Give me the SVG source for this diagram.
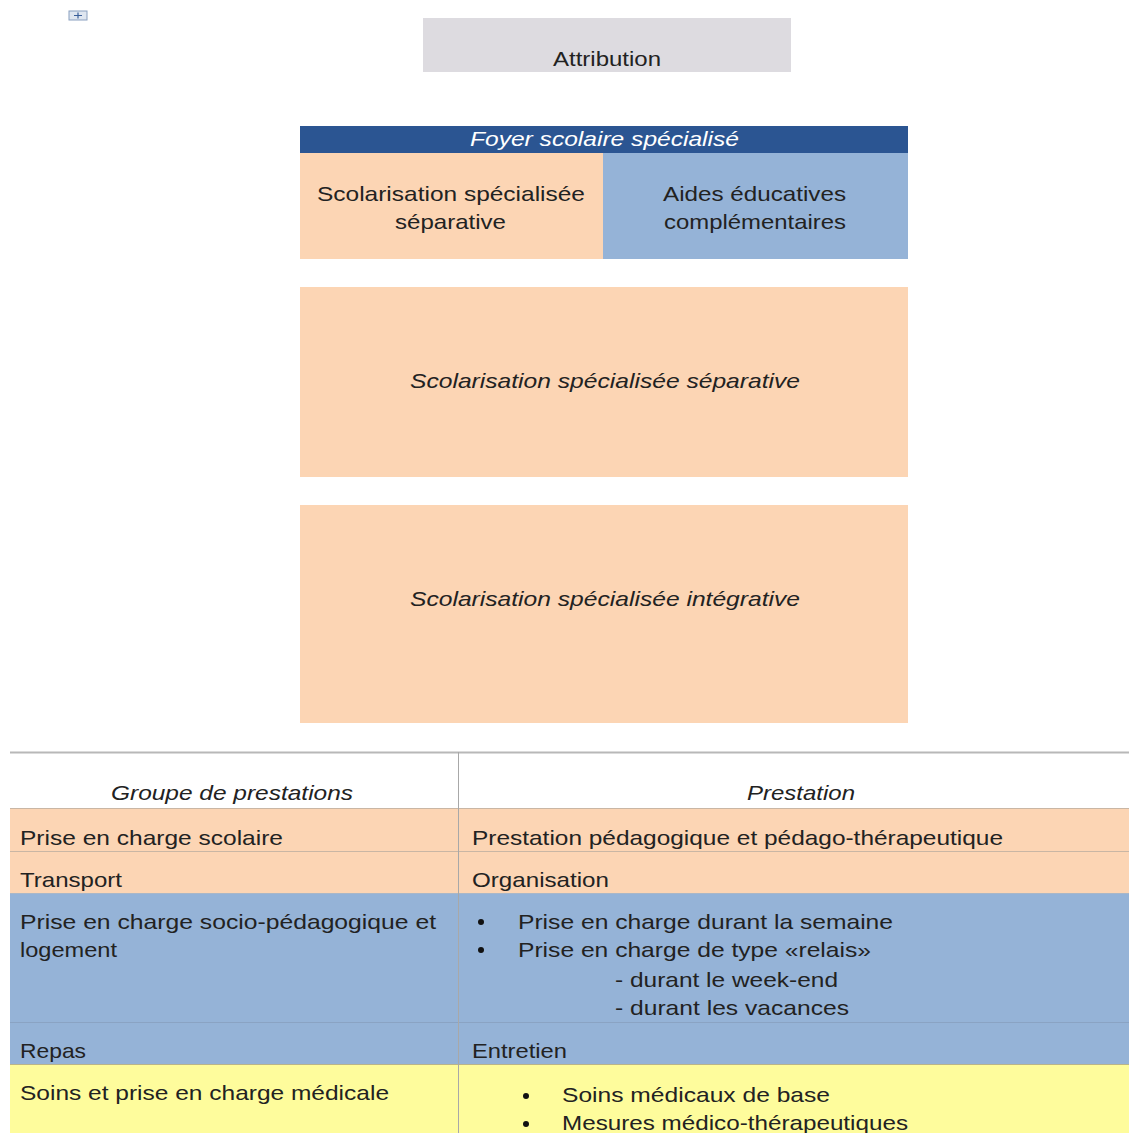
<svg xmlns="http://www.w3.org/2000/svg" width="1129" height="1133" viewBox="0 0 1129 1133">
<style>
text{font-family:"Liberation Sans",Arial,sans-serif;font-size:21px;fill:#222;}
.it{font-style:italic;}
.c{text-anchor:middle;}
.w{fill:#fff;}
.peach{fill:#fcd5b4;}
.blue{fill:#95b3d7;}
.yel{fill:#fefc9c;}
.sep{stroke:#c9b6a4;stroke-width:1;}
</style>
<rect width="1129" height="1133" fill="#fff"/>
<g id="icon">
<rect x="69" y="11" width="18" height="9" fill="#dfe6f0" stroke="#8aa0c0" stroke-width="1"/>
<path d="M74 15.5h8M78 12.5v6" stroke="#3a5f9a" stroke-width="1.2"/>
</g>
<g id="attribution">
<rect x="423" y="18" width="368" height="54" fill="#dddbe0"/>
<text x="553" y="66" textLength="108" lengthAdjust="spacingAndGlyphs">Attribution</text>
</g>
<g id="foyer">
<rect x="300" y="126" width="608" height="27" fill="#2b5592"/>
<text class="it w" x="470" y="146" textLength="269" lengthAdjust="spacingAndGlyphs">Foyer scolaire spécialisé</text>
</g>
<g id="scol-sep-cell">
<rect class="peach" x="300" y="153" width="303" height="106"/>
<text x="317" y="201" textLength="268" lengthAdjust="spacingAndGlyphs">Scolarisation spécialisée</text>
<text x="395" y="229" textLength="111" lengthAdjust="spacingAndGlyphs">séparative</text>
</g>
<g id="aides-cell">
<rect class="blue" x="603" y="153" width="305" height="106"/>
<text x="663" y="201" textLength="183" lengthAdjust="spacingAndGlyphs">Aides éducatives</text>
<text x="664" y="229" textLength="182" lengthAdjust="spacingAndGlyphs">complémentaires</text>
</g>
<g id="scol-separative">
<rect class="peach" x="300" y="287" width="608" height="190"/>
<text class="it" x="410" y="388" textLength="390" lengthAdjust="spacingAndGlyphs">Scolarisation spécialisée séparative</text>
</g>
<g id="scol-integrative">
<rect class="peach" x="300" y="505" width="608" height="218"/>
<text class="it" x="410" y="606" textLength="390" lengthAdjust="spacingAndGlyphs">Scolarisation spécialisée intégrative</text>
</g>
<g id="table">
<rect class="peach" x="10" y="808" width="1119" height="85"/>
<rect class="blue" x="10" y="893" width="1119" height="171"/>
<rect class="yel" x="10" y="1064" width="1119" height="69"/>
<line x1="10" y1="752.5" x2="1129" y2="752.5" stroke="#b8b8b8" stroke-width="2"/>
<line class="sep" x1="10" y1="808.5" x2="1129" y2="808.5"/>
<line class="sep" x1="10" y1="851.5" x2="1129" y2="851.5"/>
<line x1="10" y1="893.5" x2="1129" y2="893.5" stroke="#a9b7c8"/>
<line x1="10" y1="1022.5" x2="1129" y2="1022.5" stroke="#8aa3c3"/>
<line x1="10" y1="1064.5" x2="1129" y2="1064.5" stroke="#b9b48a"/>
<line x1="458.5" y1="752" x2="458.5" y2="1133" stroke="#a8a8a8" stroke-width="1"/>
<text class="it" x="111" y="800" textLength="242" lengthAdjust="spacingAndGlyphs">Groupe de prestations</text>
<text class="it" x="747" y="800" textLength="108" lengthAdjust="spacingAndGlyphs">Prestation</text>
<text x="20" y="845" textLength="263" lengthAdjust="spacingAndGlyphs">Prise en charge scolaire</text>
<text x="472" y="845" textLength="531" lengthAdjust="spacingAndGlyphs">Prestation pédagogique et pédago-thérapeutique</text>
<text x="20" y="887" textLength="102" lengthAdjust="spacingAndGlyphs">Transport</text>
<text x="472" y="887" textLength="137" lengthAdjust="spacingAndGlyphs">Organisation</text>
<text x="20" y="929" textLength="416" lengthAdjust="spacingAndGlyphs">Prise en charge socio-pédagogique  et</text>
<text x="20" y="957" textLength="97" lengthAdjust="spacingAndGlyphs">logement</text>
<circle cx="481" cy="922" r="3" fill="#111"/>
<circle cx="481" cy="950" r="3" fill="#111"/>
<text x="518" y="929" textLength="375" lengthAdjust="spacingAndGlyphs">Prise en charge durant la semaine</text>
<text x="518" y="957" textLength="353" lengthAdjust="spacingAndGlyphs">Prise en charge de type «relais»</text>
<text x="615" y="987" textLength="223" lengthAdjust="spacingAndGlyphs">- durant le week-end</text>
<text x="615" y="1015" textLength="234" lengthAdjust="spacingAndGlyphs">- durant les vacances</text>
<text x="20" y="1058" textLength="66" lengthAdjust="spacingAndGlyphs">Repas</text>
<text x="472" y="1058" textLength="95" lengthAdjust="spacingAndGlyphs">Entretien</text>
<text x="20" y="1100" textLength="369" lengthAdjust="spacingAndGlyphs">Soins et prise en charge médicale</text>
<circle cx="526" cy="1096" r="3" fill="#111"/>
<circle cx="526" cy="1124" r="3" fill="#111"/>
<text x="562" y="1102" textLength="268" lengthAdjust="spacingAndGlyphs">Soins médicaux de base</text>
<text x="562" y="1130" textLength="346" lengthAdjust="spacingAndGlyphs">Mesures médico-thérapeutiques</text>
</g>
</svg>
